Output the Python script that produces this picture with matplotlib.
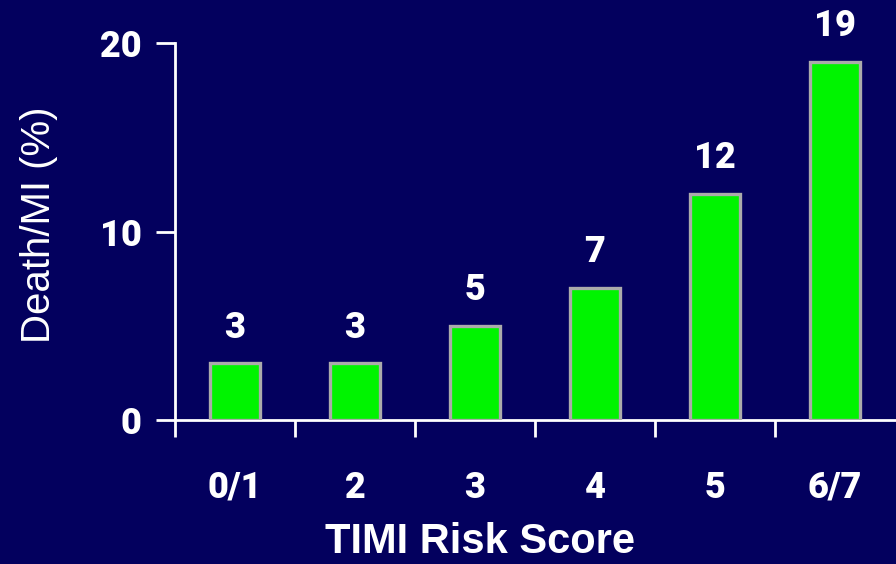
import matplotlib
matplotlib.use("Agg")
import matplotlib.pyplot as plt
import numpy as np

categories = ["0/1", "2", "3", "4", "5", "6/7"]
values = [3, 3, 5, 7, 12, 19]
y_ticks = [0, 10, 20]

bg = "#03005E"
plt.rcParams["font.family"] = ["Liberation Sans", "DejaVu Sans"]
heavy = dict(family=["Roboto", "Liberation Sans", "DejaVu Sans"], weight="black")

fig = plt.figure(figsize=(8.96, 5.64), dpi=100, facecolor=bg)
ax = fig.add_axes([175 / 896, 1 - 420 / 564, 720 / 896, 377 / 564], facecolor=bg)

x = np.arange(len(categories))
ax.bar(x, values, width=0.42, color="#00F400", edgecolor="#ABABAB",
       linewidth=2.4, zorder=3)

for xi, v in zip(x, values):
    ax.text(xi, v + 0.95, f"{v}", ha="center", va="bottom", color="white",
            fontsize=26, **heavy)

ax.set_xlim(-0.5, len(categories) - 0.5)
ax.set_ylim(0, 20)

# tick marks sit on category boundaries, labels at category centres
ax.set_xticks(np.arange(len(categories)) - 0.5)
ax.set_xticklabels([])
ax.set_xticks(x, minor=True)
ax.set_xticklabels(categories, minor=True)
ax.tick_params(axis="x", which="major", direction="out", length=12, width=2,
               color="white")
ax.tick_params(axis="x", which="minor", length=0, pad=36, labelcolor="white")
for lbl in ax.get_xticklabels(minor=True):
    lbl.set(fontsize=26, **heavy)

ax.set_yticks(y_ticks)
ax.set_yticklabels([str(t) for t in y_ticks])
ax.tick_params(axis="y", direction="out", length=14, width=2, color="white",
               labelcolor="white", pad=10)
for lbl in ax.get_yticklabels():
    lbl.set(fontsize=26, **heavy)

for side in ["top", "right"]:
    ax.spines[side].set_visible(False)
for side in ["left", "bottom"]:
    ax.spines[side].set_color("white")
    ax.spines[side].set_linewidth(2)

ax.set_ylabel("Death/MI (%)", color="white", fontsize=29)
ax.yaxis.set_label_coords(-(175 - 58) / 720, (420 - 225) / 377)
ax.set_xlabel("TIMI Risk Score", color="white", fontsize=30, fontweight="bold")
ax.xaxis.set_label_coords((480 - 175) / 720, -(522 - 420) / 377)

fig.savefig("out.png", dpi=100, facecolor=bg)
